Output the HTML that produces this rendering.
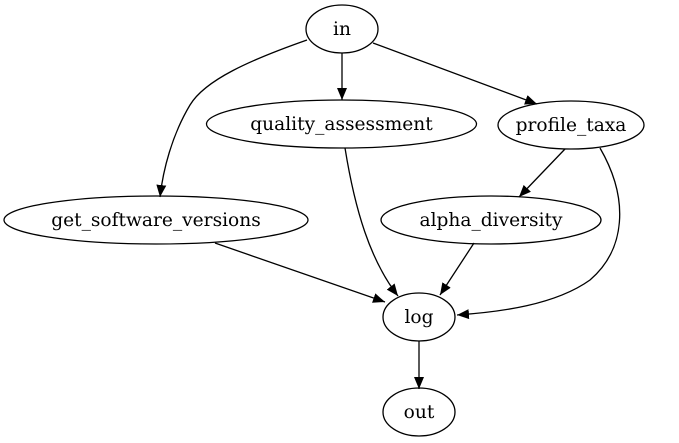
<!DOCTYPE html>
<html><head><meta charset="utf-8"><style>
html,body{margin:0;padding:0;background:#fff;}
svg{display:block;}
text{font-family:"DejaVu Serif",serif;font-size:18.6px;text-anchor:middle;fill:#000;}
</style></head><body>
<svg width="679" height="443" viewBox="0 0 679 443" xmlns="http://www.w3.org/2000/svg">
<defs><marker id="a" markerWidth="12" markerHeight="10" refX="12" refY="5" orient="auto" markerUnits="userSpaceOnUse"><path d="M0,0 L12,5 L0,10 z" fill="#000"/></marker></defs>
<g fill="none" stroke="#000" stroke-width="1.3">
<ellipse cx="342" cy="29" rx="36" ry="24"/>
<ellipse cx="341.5" cy="124" rx="135" ry="24"/>
<ellipse cx="571" cy="125" rx="73" ry="24"/>
<ellipse cx="156" cy="220" rx="152" ry="24"/>
<ellipse cx="491" cy="220" rx="110" ry="24"/>
<ellipse cx="419" cy="317" rx="36" ry="24"/>
<ellipse cx="419" cy="412" rx="36" ry="24"/>
<g marker-end="url(#a)">
<path d="M342,53 L342,100"/>
<path d="M373,43 L537,104"/>
<path d="M307,40 C250,60 205,80 190,105 C172,135 163,170 160,197"/>
<path d="M345,148 C355,210 370,260 398,296"/>
<path d="M600,148 C630,200 625,250 590,280 C555,305 500,312 457,315"/>
<path d="M215,243 L385,302"/>
<path d="M474,243 L440,295"/>
<path d="M565,149 L519,197"/>
<path d="M419,341 L419,389"/>
</g></g>
<text x="342" y="35">in</text>
<text x="341.5" y="130">quality_assessment</text>
<text x="571" y="131">profile_taxa</text>
<text x="156" y="226">get_software_versions</text>
<text x="491" y="226">alpha_diversity</text>
<text x="419" y="323">log</text>
<text x="419" y="418">out</text>
</svg>
</body></html>
